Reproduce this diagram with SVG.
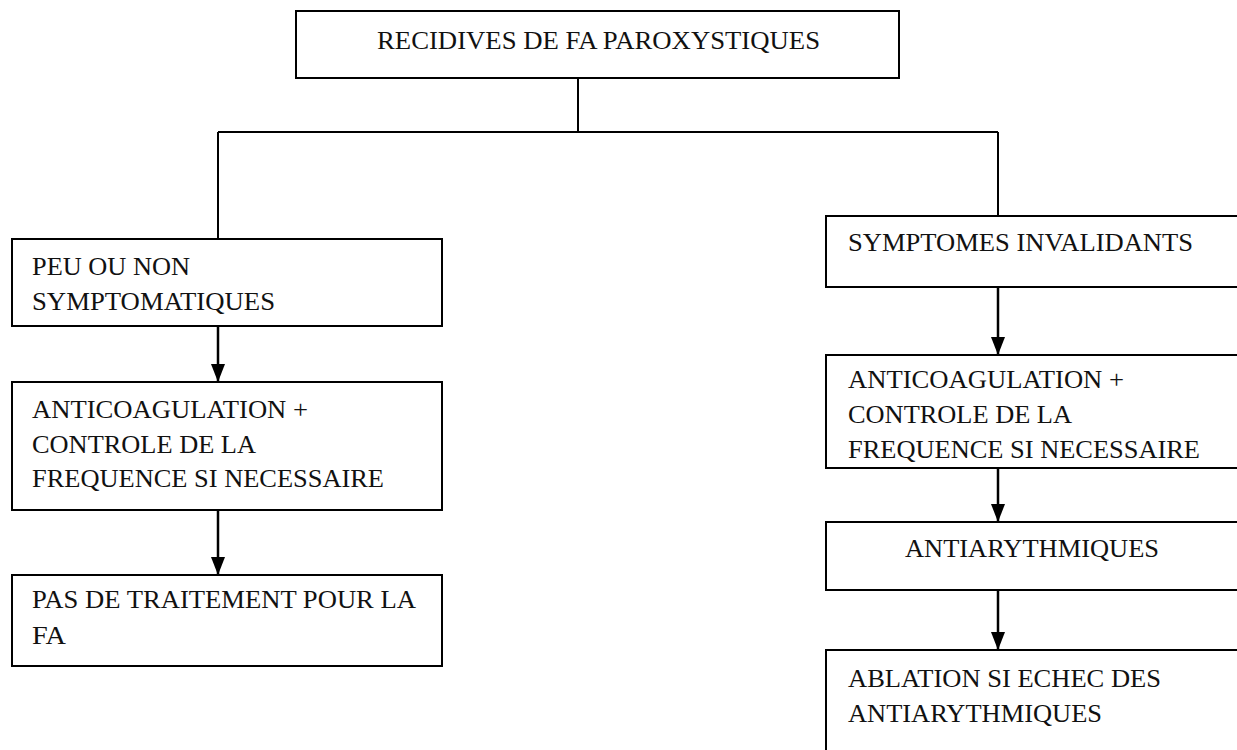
<svg xmlns="http://www.w3.org/2000/svg" width="1237" height="750" viewBox="0 0 1237 750">
  <style>
    .box { fill: #ffffff; stroke: #000000; stroke-width: 2; }
    .lbl { font-family: "Liberation Serif", "Times New Roman", serif; font-size: 26px; fill: #111111; }
    .link { fill: none; stroke: #000000; stroke-width: 2; }
    .flow { fill: none; stroke: #000000; stroke-width: 2.5; marker-end: url(#head); }
  </style>
  <defs>
    <!-- filled triangular arrowhead, tip at the end of the line -->
    <marker id="head" viewBox="0 0 18 14" refX="18" refY="7" markerWidth="18" markerHeight="14" markerUnits="userSpaceOnUse" orient="auto">
      <path d="M0,0 L18,7 L0,14 Z" fill="#000000"/>
    </marker>
  </defs>

  <!-- connectors -->
  <g id="connectors">
    <path class="link" d="M578,78 V132 M218,132 H998 M218,132 V239 M998,132 V216"/>
    <path class="flow" d="M218,326 V382"/>
    <path class="flow" d="M218,510 V575"/>
    <path class="flow" d="M998,287 V355"/>
    <path class="flow" d="M998,468 V522"/>
    <path class="flow" d="M998,590 V650"/>
  </g>

  <g id="n-recidives">
    <rect class="box" x="296" y="11" width="603" height="67"/>
    <text class="lbl" x="377" y="49" textLength="443" lengthAdjust="spacingAndGlyphs">RECIDIVES DE FA PAROXYSTIQUES</text>
  </g>

  <g id="n-peu">
    <rect class="box" x="12" y="239" width="430" height="87"/>
    <text class="lbl" x="32" y="275" textLength="158" lengthAdjust="spacingAndGlyphs">PEU OU NON</text>
    <text class="lbl" x="32" y="310" textLength="243" lengthAdjust="spacingAndGlyphs">SYMPTOMATIQUES</text>
  </g>

  <g id="n-anticoag-left">
    <rect class="box" x="12" y="382" width="430" height="128"/>
    <text class="lbl" x="32" y="418" textLength="276" lengthAdjust="spacingAndGlyphs">ANTICOAGULATION +</text>
    <text class="lbl" x="32" y="453" textLength="224" lengthAdjust="spacingAndGlyphs">CONTROLE DE LA</text>
    <text class="lbl" x="32" y="487" textLength="352" lengthAdjust="spacingAndGlyphs">FREQUENCE SI NECESSAIRE</text>
  </g>

  <g id="n-pas">
    <rect class="box" x="12" y="575" width="430" height="91"/>
    <text class="lbl" x="32" y="608" textLength="384" lengthAdjust="spacingAndGlyphs">PAS DE TRAITEMENT POUR LA</text>
    <text class="lbl" x="32" y="644" textLength="34" lengthAdjust="spacingAndGlyphs">FA</text>
  </g>

  <g id="n-symptomes">
    <rect class="box" x="826" y="216" width="430" height="71"/>
    <text class="lbl" x="848" y="251" textLength="345" lengthAdjust="spacingAndGlyphs">SYMPTOMES INVALIDANTS</text>
  </g>

  <g id="n-anticoag-right">
    <rect class="box" x="826" y="355" width="430" height="113"/>
    <text class="lbl" x="848" y="388" textLength="276" lengthAdjust="spacingAndGlyphs">ANTICOAGULATION +</text>
    <text class="lbl" x="848" y="423" textLength="224" lengthAdjust="spacingAndGlyphs">CONTROLE DE LA</text>
    <text class="lbl" x="848" y="458" textLength="352" lengthAdjust="spacingAndGlyphs">FREQUENCE SI NECESSAIRE</text>
  </g>

  <g id="n-antiarythmiques">
    <rect class="box" x="826" y="522" width="430" height="68"/>
    <text class="lbl" x="905" y="557" textLength="254" lengthAdjust="spacingAndGlyphs">ANTIARYTHMIQUES</text>
  </g>

  <g id="n-ablation">
    <rect class="box" x="826" y="650" width="430" height="120"/>
    <text class="lbl" x="848" y="687" textLength="313" lengthAdjust="spacingAndGlyphs">ABLATION SI ECHEC DES</text>
    <text class="lbl" x="848" y="722" textLength="254" lengthAdjust="spacingAndGlyphs">ANTIARYTHMIQUES</text>
  </g>
</svg>
